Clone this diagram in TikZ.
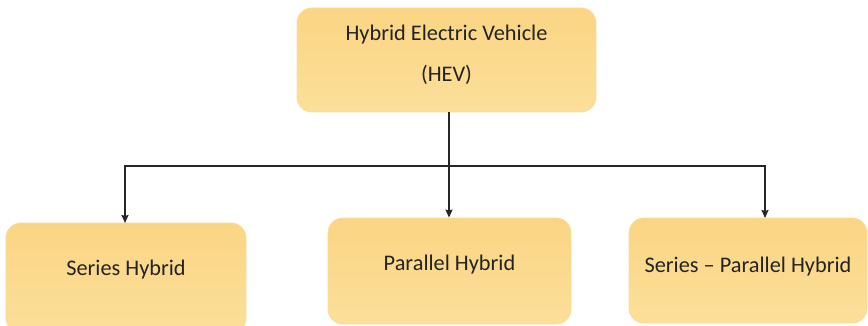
\documentclass[tikz,border=0pt]{standalone}
\usepackage{fontspec}
\setmainfont{Carlito}
\usetikzlibrary{arrows.meta}
\definecolor{boxtop}{RGB}{250,213,132}
\definecolor{boxbot}{RGB}{252,223,153}
\definecolor{boxline}{RGB}{250,220,150}
\definecolor{txtc}{RGB}{35,35,35}
\tikzset{
  hbox/.style={draw=boxline, line width=0.8pt, rounded corners=15pt,
    top color=boxtop, bottom color=boxbot, inner sep=0pt},
  lbl/.style={font=\fontsize{22.3}{26}\selectfont, text=txtc, inner sep=0pt},
  conn/.style={line width=1.8pt, draw=black!85, -{Stealth[length=8pt,width=7pt,inset=1pt]}},
  plainconn/.style={line width=1.8pt, draw=black!85}
}
\begin{document}
\begin{tikzpicture}[x=1pt,y=-1pt]
\useasboundingbox (0,0) rectangle (868,326);
\clip (0,0) rectangle (868,326);
% boxes
\node[hbox, minimum width=299pt, minimum height=104pt] (hev) at (446.5,60) {};
\node[lbl] (hevA) at (446.5,35) {Hybrid Electric Vehicle};
\node[lbl] (hevB) at (446.5,75) {(HEV)};
\node[hbox, minimum width=240pt, minimum height=110pt] (ser) at (126,278) {};
\node[lbl] (serT) at (126,270) {Series Hybrid};
\node[hbox, minimum width=243pt, minimum height=106pt] (par) at (449.5,271) {};
\node[lbl] (parT) at (449.5,265) {Parallel Hybrid};
\node[hbox, minimum width=238pt, minimum height=105pt] (sp) at (748,270.5) {};
\node[lbl] (spT) at (748,267) {Series – Parallel Hybrid};
% connectors
\coordinate (jn) at (449,166);
\coordinate (spin) at (765,218);
\coordinate (serin) at (125,223);
\draw[plainconn] (hev.south -| jn) -- (jn);
\draw[conn] (jn) -- (par.north -| jn);
\draw[conn] (jn) -| (serin);
\draw[conn] (jn) -| (spin);
\end{tikzpicture}
\end{document}
